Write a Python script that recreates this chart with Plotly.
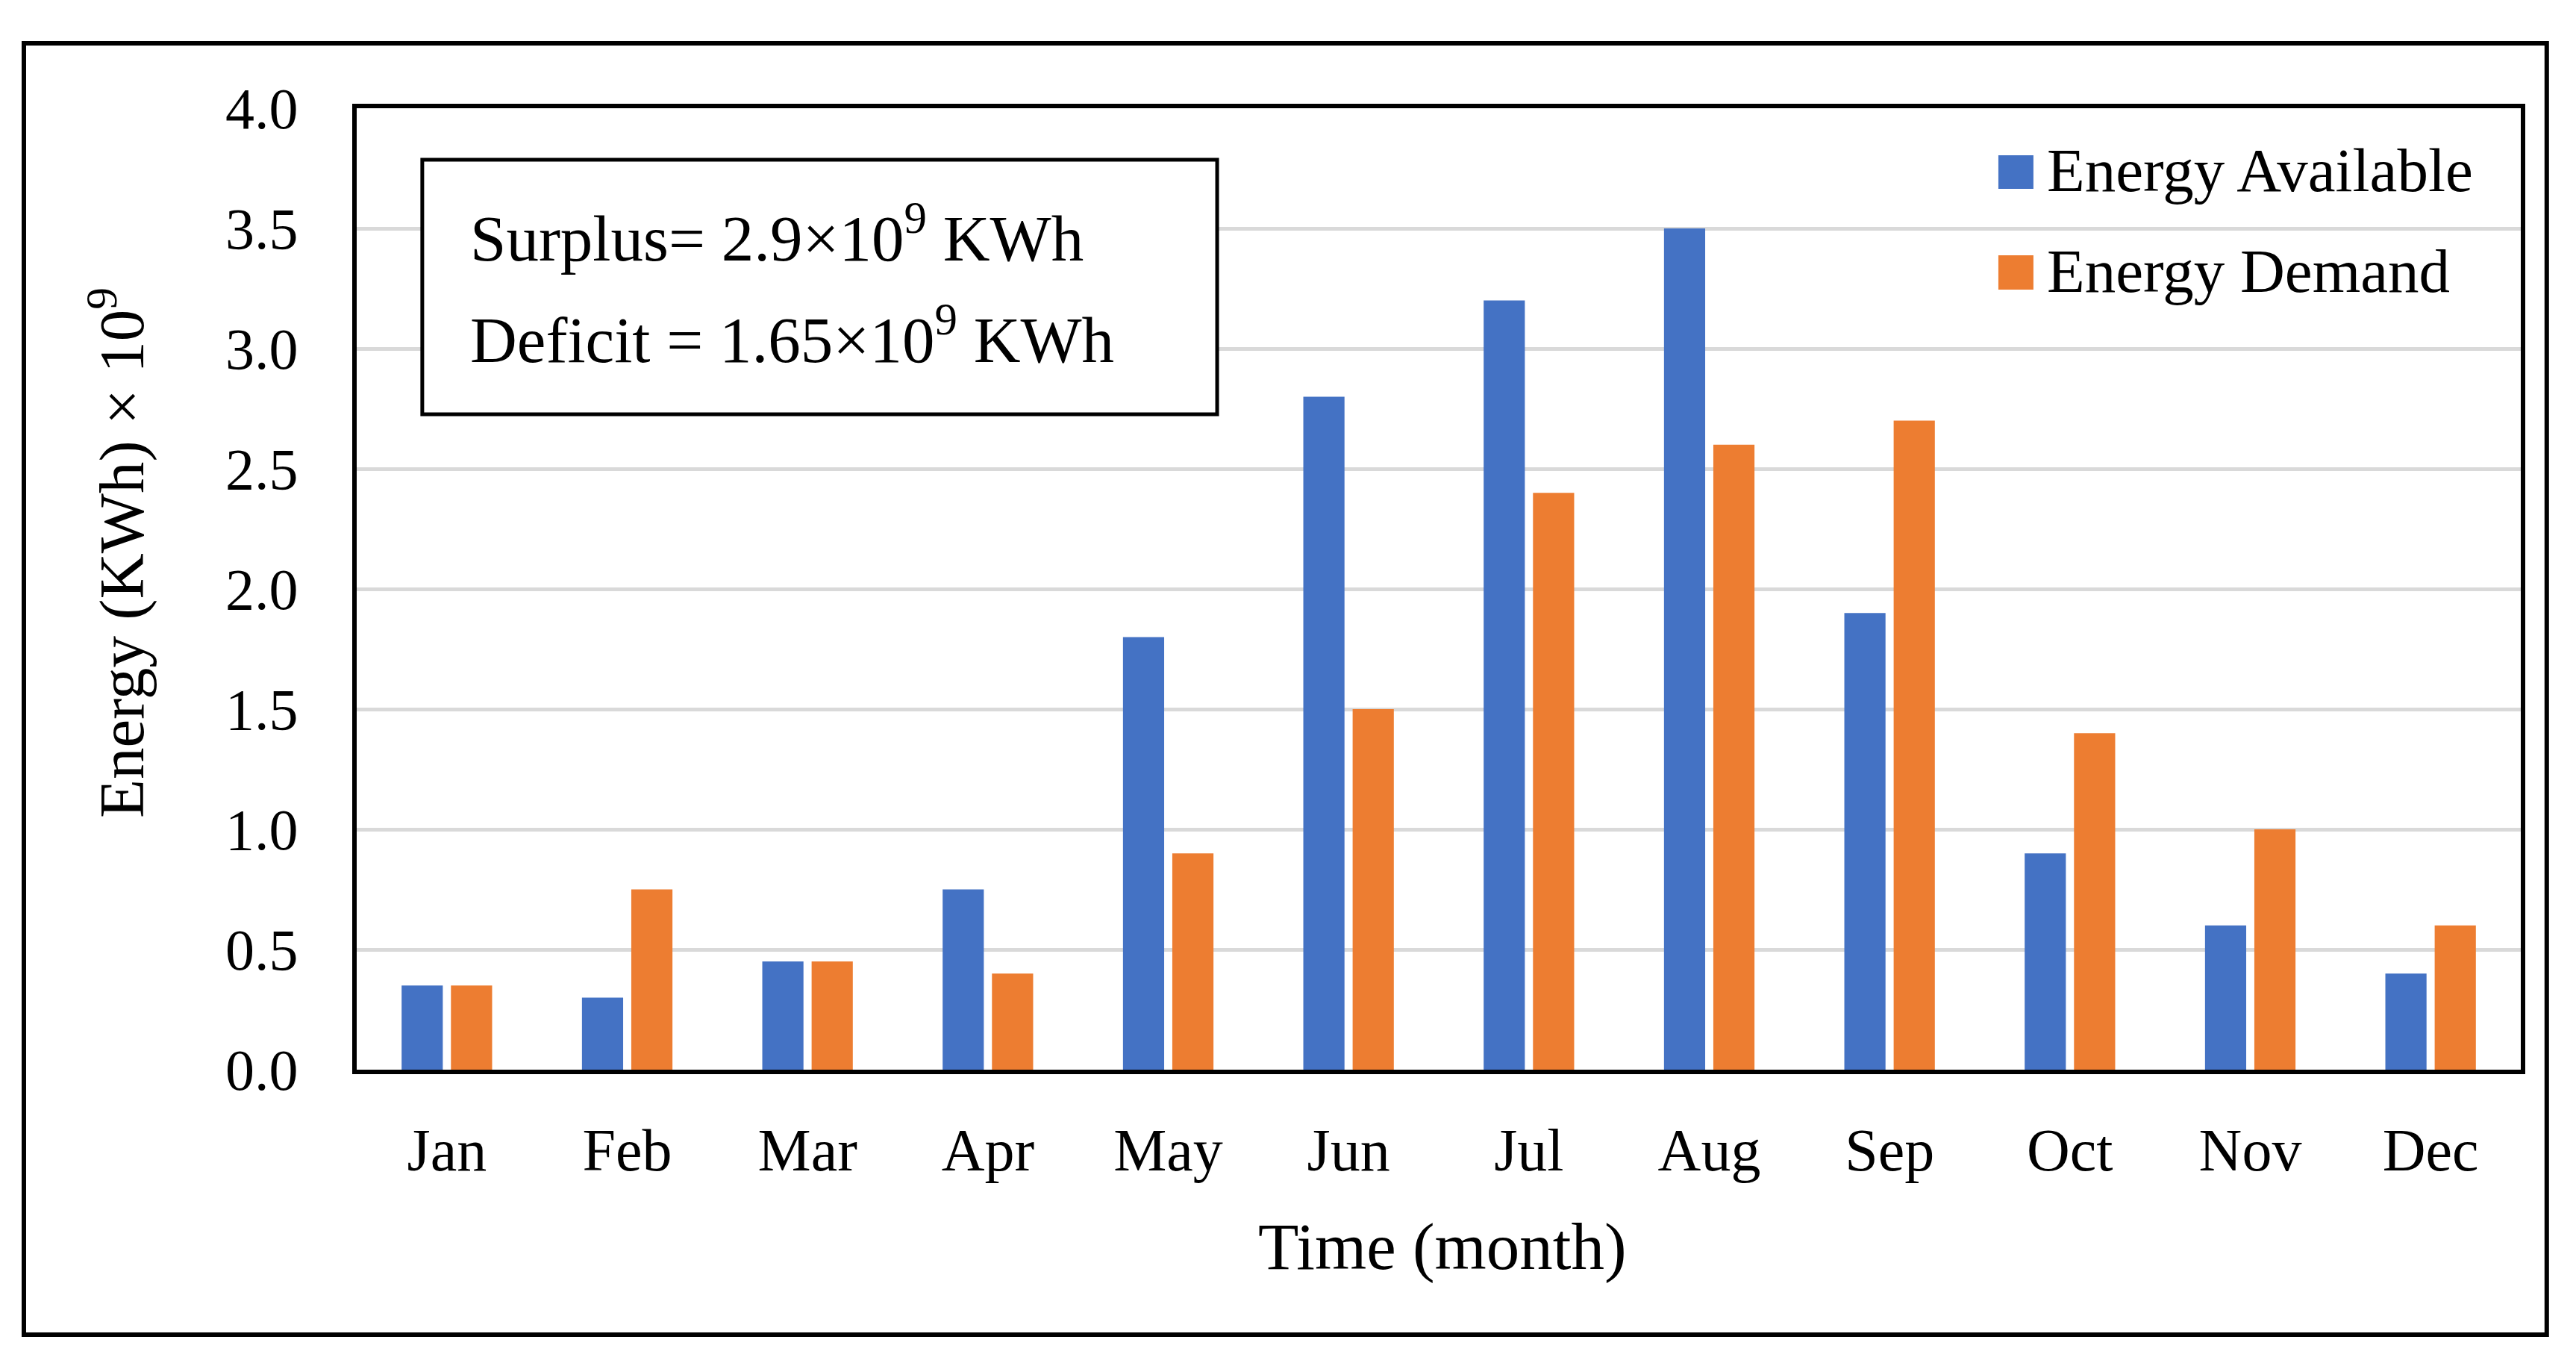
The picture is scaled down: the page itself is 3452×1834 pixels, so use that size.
import plotly.graph_objects as go

months = ["Jan", "Feb", "Mar", "Apr", "May", "Jun", "Jul", "Aug", "Sep", "Oct", "Nov", "Dec"]
energy_available = [0.35, 0.30, 0.45, 0.75, 1.80, 2.80, 3.20, 3.50, 1.90, 0.90, 0.60, 0.40]
energy_demand = [0.35, 0.75, 0.45, 0.40, 0.90, 1.50, 2.40, 2.60, 2.70, 1.40, 1.00, 0.60]
series_names = ["Energy Available", "Energy Demand"]
series_colors = ["#4472C4", "#ED7D31"]
y_ticks = [0.0, 0.5, 1.0, 1.5, 2.0, 2.5, 3.0, 3.5, 4.0]
box_lines = ["Surplus= 2.9×10<sup>9</sup> KWh", "Deficit = 1.65×10<sup>9</sup> KWh"]

FONT = "Liberation Serif"

fig = go.Figure()
for name, vals, col in zip(series_names, [energy_available, energy_demand], series_colors):
    fig.add_trace(go.Bar(x=months, y=vals, name=name, marker=dict(color=col, line=dict(width=0)),
                         showlegend=False))

fig.update_layout(
    width=3436, height=1818,
    margin=dict(l=470, r=66, t=137, b=393),
    paper_bgcolor="white", plot_bgcolor="white",
    barmode="group", bargap=0.453, bargroupgap=0.165,
    font=dict(family=FONT, color="black", size=78),
)
fig.update_xaxes(
    showline=True, linecolor="black", linewidth=6, mirror=True,
    showgrid=False, ticks="", ticklabelstandoff=33,
    tickfont=dict(family=FONT, size=80, color="black"),
)
fig.update_yaxes(
    range=[0, 4], tickvals=y_ticks, ticktext=[f"{v:.1f}" for v in y_ticks],
    showline=True, linecolor="black", linewidth=6, mirror=True,
    showgrid=True, gridcolor="#D9D9D9", gridwidth=5, zeroline=False,
    ticks="", ticklabelstandoff=57,
    tickfont=dict(family=FONT, size=78, color="black"),
)

shapes = []
# outer frame
shapes.append(dict(type="rect", xref="paper", yref="paper", x0=-0.1538, x1=1.012, y0=-0.2756, y1=1.0675,
                   line=dict(color="black", width=6), fillcolor="rgba(0,0,0,0)", layer="above"))
# text box
shapes.append(dict(type="rect", xref="paper", yref="paper", x0=0.0303, x1=0.3976, y0=0.6817, y1=0.9464,
                   line=dict(color="black", width=5), fillcolor="white", layer="above"))
# legend swatches
swatch_y = [(0.9161, 0.9511), (0.8113, 0.8470)]
for (y0, y1), col in zip(swatch_y, series_colors):
    shapes.append(dict(type="rect", xref="paper", yref="paper", x0=0.7586, x1=0.7748, y0=y0, y1=y1,
                       line=dict(width=0), fillcolor=col, layer="above"))
fig.update_layout(shapes=shapes)

annotations = []
for txt, yy in zip(box_lines, [0.8695, 0.7639]):
    annotations.append(dict(text=txt, xref="paper", yref="paper", x=0.0518, y=yy, xanchor="left",
                            yanchor="middle", showarrow=False, font=dict(family=FONT, size=87, color="black")))
for name, yy in zip(series_names, [0.9356, 0.8307]):
    annotations.append(dict(text=name, xref="paper", yref="paper", x=0.7804, y=yy, xanchor="left",
                            yanchor="middle", showarrow=False, font=dict(family=FONT, size=83, color="black")))
annotations.append(dict(text="Energy (KWh) × 10<sup>9</sup>", xref="paper", yref="paper", x=-0.1107, y=0.538,
                        xanchor="center", yanchor="middle", textangle=-90, showarrow=False,
                        font=dict(family=FONT, size=85, color="black")))
annotations.append(dict(text="Time (month)", xref="paper", yref="paper", x=0.5017, y=-0.184,
                        xanchor="center", yanchor="middle", showarrow=False,
                        font=dict(family=FONT, size=89, color="black")))
fig.update_layout(annotations=annotations)

fig.write_html("out.html")
